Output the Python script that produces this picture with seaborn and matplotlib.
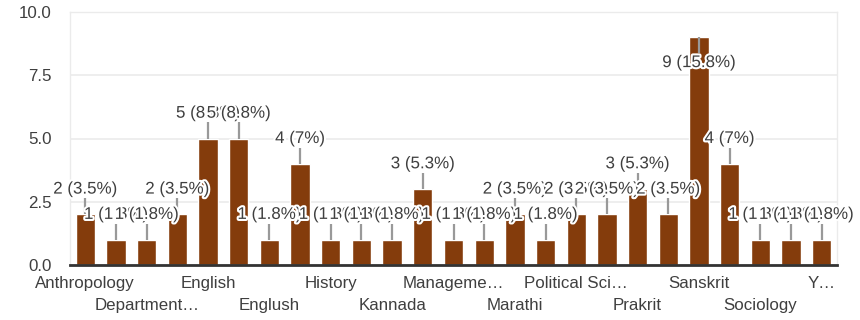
import matplotlib
matplotlib.use("Agg")
import matplotlib.pyplot as plt
import matplotlib.patheffects as pe
import matplotlib.transforms as mtransforms
import seaborn as sns
import pandas as pd

# Responses per department (every other name is shown on the axis)
tick_labels = [
    "Anthropology", "", "Department…", "", "English", "", "Englush", "",
    "History", "", "Kannada", "", "Manageme…", "", "Marathi", "",
    "Political Sci…", "", "Prakrit", "", "Sanskrit", "", "Sociology", "", "Y…",
]
counts = [2, 1, 1, 2, 5, 5, 1, 4, 1, 1, 1, 3, 1, 1, 2, 1, 2, 2, 3, 2, 9, 4, 1, 1, 1]

BAR = "#843c0c"
TEXT = "#3f3f3f"
YMAX = 10.0
FS = 12.2

sns.set_theme(style="white")
plt.rcParams["font.family"] = ["Liberation Sans", "DejaVu Sans"]

df = pd.DataFrame({"pos": list(range(len(counts))), "count": counts})
total = sum(counts)

fig = plt.figure(figsize=(8.6, 3.2), dpi=100)
ax = fig.add_axes([70 / 860, 1 - 265 / 320, 767 / 860, 253 / 320])

sns.barplot(data=df, x="pos", y="count", color=BAR, width=0.63,
            saturation=1, ax=ax, zorder=2)

ax.set_xlim(-0.5, len(counts) - 0.5)
ax.set_ylim(0, YMAX)
ax.set_yticks([0, 2.5, 5, 7.5, 10])
ax.set_yticklabels(["0.0", "2.5", "5.0", "7.5", "10.0"], fontsize=FS, color=TEXT)
ax.tick_params(axis="y", length=0, pad=13)
ax.set_xticks([])
ax.set_xlabel("")
ax.set_ylabel("")
ax.yaxis.grid(True, color="#ebebeb", linewidth=1.2, zorder=0)
ax.set_axisbelow(True)

for side in ("left", "right", "top"):
    ax.spines[side].set_color("#ebebeb")
    ax.spines[side].set_linewidth(1.0)
ax.spines["bottom"].set_color("#333333")
ax.spines["bottom"].set_linewidth(2.0)
ax.spines["bottom"].set_zorder(4)

# Category names in two staggered rows under the bars
blend = mtransforms.blended_transform_factory(ax.transData, ax.transAxes)
shown = [i for i, t in enumerate(tick_labels) if t]
for k, i in enumerate(shown):
    y_off = -0.075 if k % 2 == 0 else -0.162
    ax.text(i, y_off, tick_labels[i], transform=blend, ha="center", va="center",
            fontsize=FS, color=TEXT, clip_on=False)

# Value labels with leader lines
halo = [pe.withStroke(linewidth=3, foreground="white")]
for i, v in enumerate(counts):
    pct = round(v / total * 100, 1)
    label = f"{v} ({pct:g}%)"
    if v + 1.35 <= YMAX:
        ly = v + 1.0
        ax.plot([i, i], [v, ly - 0.36], color="#999999", linewidth=1.6,
                zorder=3, solid_capstyle="butt")
    else:
        ly = v - 1.0
        ax.plot([i, i], [v, ly + 0.36], color="#999999", linewidth=1.6,
                zorder=3, solid_capstyle="butt")
    ax.text(i, ly, label, ha="center", va="center", fontsize=FS,
            color=TEXT, zorder=5 + i, path_effects=halo, clip_on=False)

fig.savefig("out.png", dpi=100)
